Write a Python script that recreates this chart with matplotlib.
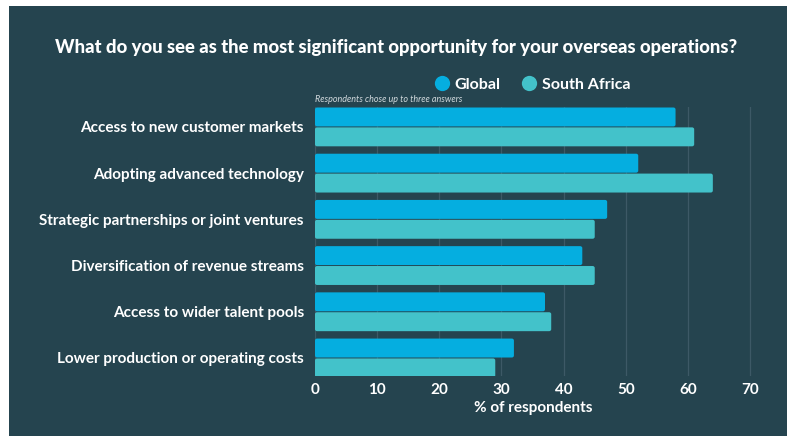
import matplotlib
matplotlib.use("Agg")
import matplotlib.pyplot as plt
import numpy as np
from matplotlib.patches import Rectangle, FancyBboxPatch
from matplotlib.lines import Line2D

plt.rcParams['font.family'] = ['Lato', 'DejaVu Sans']

categories = [
    "Access to new customer markets",
    "Adopting advanced technology",
    "Strategic partnerships or joint ventures",
    "Diversification of revenue streams",
    "Access to wider talent pools",
    "Lower production or operating costs",
]
global_vals = [58, 52, 47, 43, 37, 32]
south_africa_vals = [61, 64, 45, 45, 38, 29]
series_names = ["Global", "South Africa"]
x_ticks = [0, 10, 20, 30, 40, 50, 60, 70]

BG = "#25444f"
GRID = "#3d5966"
C_GLOBAL = "#05aee0"
C_SA = "#43c2ca"
TXT = "#ffffff"

fig = plt.figure(figsize=(7.9, 4.36), dpi=100)
fig.patch.set_facecolor("white")
fig.add_artist(Rectangle((9 / 790, 0), 778 / 790, 430 / 436,
                         transform=fig.transFigure, facecolor=BG,
                         edgecolor="none", zorder=-10))

ax = fig.add_axes([315 / 790, 1 - 376 / 436, 437 / 790, (376 - 107.5) / 436])
ax.set_facecolor("none")

bar_h = 0.41
off = 0.215
y = np.arange(len(categories))


def rounded_bar(x0, yc, w, h, color):
    # small rounded corners, drawn in data coords
    p = FancyBboxPatch((x0, yc - h / 2), w, h,
                       boxstyle="round,pad=0,rounding_size=0.35",
                       mutation_aspect=0.12,
                       facecolor=color, edgecolor="none", zorder=3)
    ax.add_patch(p)


for i in range(len(categories)):
    rounded_bar(0, y[i] - off, global_vals[i], bar_h, C_GLOBAL)
    rounded_bar(0, y[i] + off, south_africa_vals[i], bar_h, C_SA)

ax.set_xlim(0, 70.3)
ax.set_ylim(len(categories) - 1 + 0.39, -0.42)

ax.set_xticks(x_ticks)
ax.set_xticklabels([str(t) for t in x_ticks], color=TXT, fontsize=11,
                   fontweight="bold")
ax.set_yticks(y)
ax.set_yticklabels(categories, color=TXT, fontsize=11, fontweight="bold")
ax.tick_params(axis="both", length=0)
ax.tick_params(axis="x", pad=5)
ax.tick_params(axis="y", pad=8)
for s in ax.spines.values():
    s.set_visible(False)
ax.grid(axis="x", color=GRID, linewidth=0.9, zorder=0)
ax.set_axisbelow(True)

ax.set_xlabel("% of respondents", color=TXT, fontsize=11,
              fontweight="bold", labelpad=3)

fig.text(396 / 790, 1 - 47 / 436,
         "What do you see as the most significant opportunity for your overseas operations?",
         color=TXT, fontsize=13.3, fontweight="black", ha="center", va="center")

fig.text(315 / 790, 1 - 100 / 436, "Respondents chose up to three answers",
         color="#d0d8dc", fontsize=6.5, style="italic", ha="left", va="center")

handles = [Line2D([], [], marker="o", linestyle="none", markersize=11,
                  markerfacecolor=c, markeredgecolor="none")
           for c in (C_GLOBAL, C_SA)]
leg = fig.legend(handles, series_names, loc="center",
                 bbox_to_anchor=(532 / 790, 1 - 85 / 436), ncol=2,
                 frameon=False, handletextpad=0.3, columnspacing=1.3,
                 handlelength=1.0, prop={"size": 11.5, "weight": "bold"})
for t in leg.get_texts():
    t.set_color(TXT)

fig.savefig("out.png", dpi=100, facecolor=fig.get_facecolor())
